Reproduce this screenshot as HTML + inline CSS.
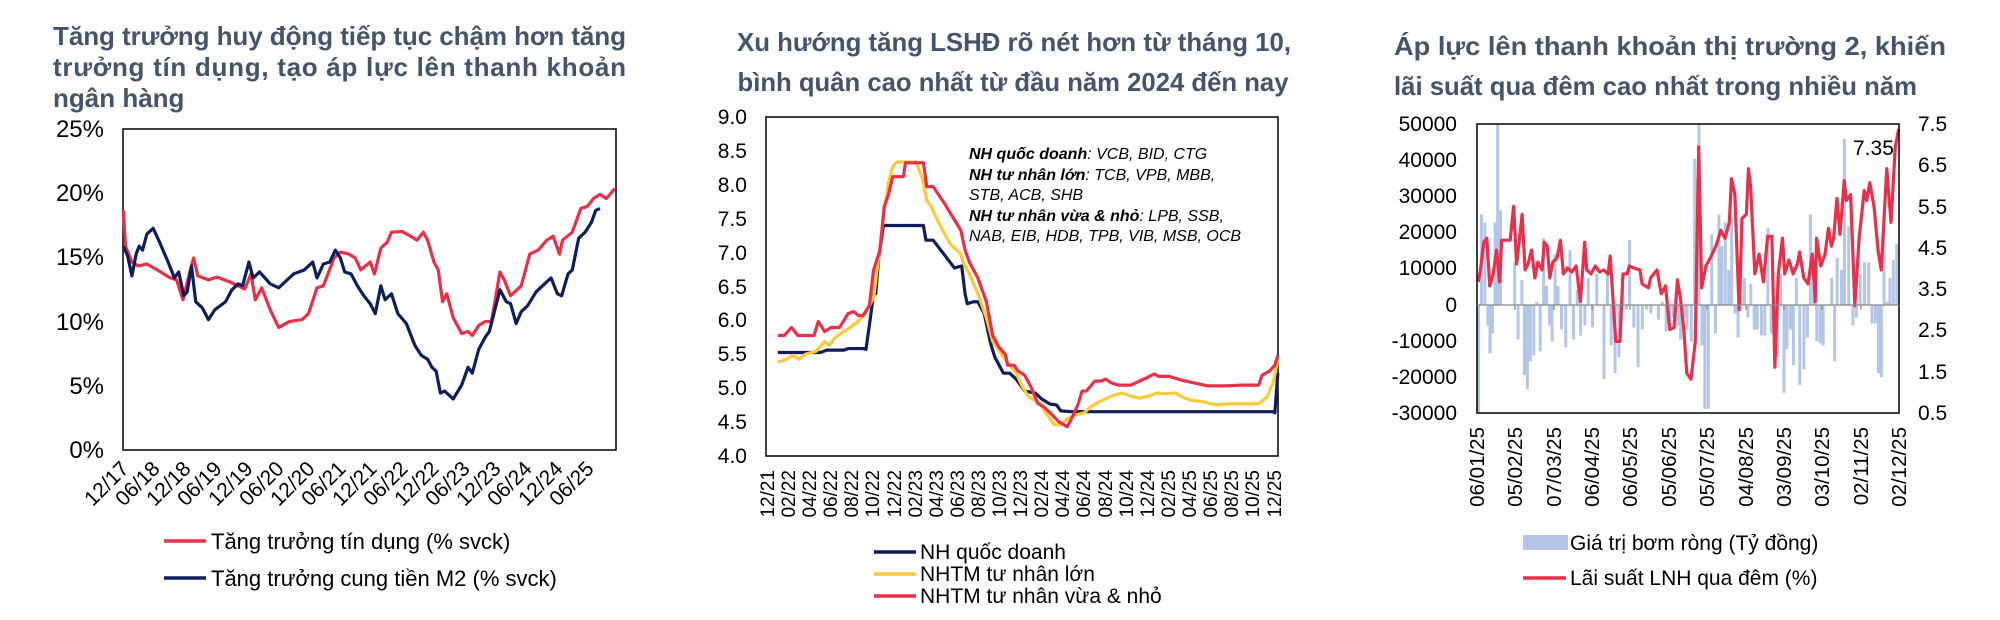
<!DOCTYPE html>
<html><head><meta charset="utf-8"><style>
html,body{margin:0;padding:0;background:#fff}
svg{display:block;font-family:"Liberation Sans",Arial,sans-serif}
.t{font-weight:bold;fill:#44546a;font-size:26px}
.ax{font-size:21px;fill:#000}
.ax1{font-size:24px;fill:#000}
.xl{font-size:19px;fill:#000}
.xl1{font-size:21px;fill:#000}
.xl3{font-size:20.5px;fill:#000}
.ln{fill:none;stroke-width:3.2;stroke-linejoin:round;vector-effect:non-scaling-stroke}
</style></head><body>
<svg width="2000" height="620" viewBox="0 0 2000 620">
<!-- ===== Chart 1 ===== -->
<text class="t" x="53" y="45" textLength="573" lengthAdjust="spacing">Tăng trưởng huy động tiếp tục chậm hơn tăng</text>
<text class="t" x="53" y="76" textLength="573" lengthAdjust="spacing">trưởng tín dụng, tạo áp lực lên thanh khoản</text>
<text class="t" x="53" y="107">ngân hàng</text>
<rect x="123" y="129" width="493" height="321" fill="none" stroke="#000" stroke-width="1.5"/>
<g class="ax1" text-anchor="end">
<text x="104" y="137">25%</text><text x="104" y="201">20%</text><text x="104" y="265">15%</text>
<text x="104" y="330">10%</text><text x="104" y="394">5%</text><text x="104" y="458">0%</text>
</g>
<g class="xl1" text-anchor="end">
<text transform="translate(130,470) rotate(-45)">12/17</text>
<text transform="translate(161,470) rotate(-45)">06/18</text>
<text transform="translate(192,470) rotate(-45)">12/18</text>
<text transform="translate(223,470) rotate(-45)">06/19</text>
<text transform="translate(254,470) rotate(-45)">12/19</text>
<text transform="translate(285,470) rotate(-45)">06/20</text>
<text transform="translate(316,470) rotate(-45)">12/20</text>
<text transform="translate(347,470) rotate(-45)">06/21</text>
<text transform="translate(378,470) rotate(-45)">12/21</text>
<text transform="translate(409,470) rotate(-45)">06/22</text>
<text transform="translate(440,470) rotate(-45)">12/22</text>
<text transform="translate(471,470) rotate(-45)">06/23</text>
<text transform="translate(502,470) rotate(-45)">12/23</text>
<text transform="translate(533,470) rotate(-45)">06/24</text>
<text transform="translate(564,470) rotate(-45)">12/24</text>
<text transform="translate(595,470) rotate(-45)">06/25</text>
</g>
<g transform="scale(0.4255,0.397)">
<polyline class="ln" stroke="#e8304a" points="290,530 295,620 310,660 325,670 345,665 370,680 400,700 415,705 430,755 445,690 455,650 465,695 490,705 510,698 540,710 575,728 590,690 600,755 615,725 635,780 655,825 680,810 710,805 725,790 745,725 760,720 785,650 800,635 820,640 835,650 848,680 870,660 880,690 895,625 910,610 920,585 945,583 965,595 980,605 995,585 1005,605 1020,660 1030,680 1040,760 1050,740 1065,800 1085,840 1100,835 1110,845 1125,820 1140,810 1155,810 1175,685 1185,705 1200,745 1215,730 1225,720 1245,640 1265,630 1285,605 1300,595 1315,640 1322,605 1345,585 1365,525 1380,520 1395,500 1410,490 1425,500 1445,475"/>
<polyline class="ln" stroke="#0f1e5a" points="290,620 300,645 310,695 320,640 327,620 335,630 345,590 360,575 375,610 395,660 410,700 420,685 432,745 440,735 450,670 460,760 475,775 490,805 505,780 530,760 545,730 560,715 570,720 585,660 595,700 610,685 635,715 655,725 670,710 690,690 715,680 735,660 745,700 760,665 775,660 788,630 800,650 810,685 825,690 840,720 855,745 870,765 882,790 895,720 905,755 920,740 935,790 955,815 975,870 990,895 1005,905 1015,925 1025,935 1035,990 1045,985 1055,995 1065,1005 1085,970 1100,925 1110,940 1125,880 1140,850 1150,835 1175,730 1190,760 1200,765 1213,815 1225,785 1240,770 1260,735 1280,715 1295,700 1310,740 1320,745 1335,690 1345,680 1360,600 1375,585 1390,560 1400,530 1410,525"/>
</g>
<line x1="164" y1="541" x2="206" y2="541" stroke="#e8304a" stroke-width="3.5"/>
<text x="211" y="549" font-size="22">Tăng trưởng tín dụng (% svck)</text>
<line x1="164" y1="578" x2="206" y2="578" stroke="#0f1e5a" stroke-width="3.5"/>
<text x="211" y="586" font-size="22">Tăng trưởng cung tiền M2 (% svck)</text>

<!-- ===== Chart 2 ===== -->
<text class="t" x="1014" y="51" text-anchor="middle" textLength="554" lengthAdjust="spacingAndGlyphs">Xu hướng tăng LSHĐ rõ nét hơn từ tháng 10,</text>
<text class="t" x="1013" y="91" text-anchor="middle" textLength="551" lengthAdjust="spacingAndGlyphs">bình quân cao nhất từ đầu năm 2024 đến nay</text>
<rect x="766" y="117" width="512" height="339" fill="none" stroke="#000" stroke-width="1.5"/>
<g class="ax" text-anchor="end">
<text x="747" y="124">9.0</text><text x="747" y="158">8.5</text><text x="747" y="192">8.0</text>
<text x="747" y="226">7.5</text><text x="747" y="260">7.0</text><text x="747" y="294">6.5</text>
<text x="747" y="327">6.0</text><text x="747" y="361">5.5</text><text x="747" y="395">5.0</text>
<text x="747" y="429">4.5</text><text x="747" y="463">4.0</text>
</g>
<g class="xl" text-anchor="end">
<text transform="translate(774,470) rotate(-90)">12/21</text>
<text transform="translate(795,470) rotate(-90)">02/22</text>
<text transform="translate(816,470) rotate(-90)">04/22</text>
<text transform="translate(837,470) rotate(-90)">06/22</text>
<text transform="translate(858,470) rotate(-90)">08/22</text>
<text transform="translate(879,470) rotate(-90)">10/22</text>
<text transform="translate(901,470) rotate(-90)">12/22</text>
<text transform="translate(922,470) rotate(-90)">02/23</text>
<text transform="translate(943,470) rotate(-90)">04/23</text>
<text transform="translate(964,470) rotate(-90)">06/23</text>
<text transform="translate(985,470) rotate(-90)">08/23</text>
<text transform="translate(1006,470) rotate(-90)">10/23</text>
<text transform="translate(1027,470) rotate(-90)">12/23</text>
<text transform="translate(1048,470) rotate(-90)">02/24</text>
<text transform="translate(1069,470) rotate(-90)">04/24</text>
<text transform="translate(1090,470) rotate(-90)">06/24</text>
<text transform="translate(1112,470) rotate(-90)">08/24</text>
<text transform="translate(1133,470) rotate(-90)">10/24</text>
<text transform="translate(1154,470) rotate(-90)">12/24</text>
<text transform="translate(1175,470) rotate(-90)">02/25</text>
<text transform="translate(1196,470) rotate(-90)">04/25</text>
<text transform="translate(1217,470) rotate(-90)">06/25</text>
<text transform="translate(1238,470) rotate(-90)">08/25</text>
<text transform="translate(1259,470) rotate(-90)">10/25</text>
<text transform="translate(1281,470) rotate(-90)">12/25</text>
</g>
<g font-size="16" font-style="italic" fill="#000">
<text x="969" y="159"><tspan font-weight="bold">NH quốc doanh</tspan>: VCB, BID, CTG</text>
<text x="969" y="180"><tspan font-weight="bold">NH tư nhân lớn</tspan>: TCB, VPB, MBB,</text>
<text x="969" y="200">STB, ACB, SHB</text>
<text x="969" y="221"><tspan font-weight="bold">NH tư nhân vừa &amp; nhỏ</tspan>: LPB, SSB,</text>
<text x="969" y="241">NAB, EIB, HDB, TPB, VIB, MSB, OCB</text>
</g>
<g transform="translate(680,0) scale(0.4255,0.397)">
<polyline class="ln" stroke="#0f1e5a" points="230,888 330,888 345,882 385,882 395,878 430,878 437,880 445,820 455,740 460,740 467,650 478,568 572,568 578,605 595,605 620,640 645,675 662,670 670,740 675,765 690,760 700,760 715,790 730,865 740,900 760,940 775,940 790,955 810,985 835,990 850,1005 870,1018 885,1020 895,1035 920,1037 1395,1037 1398,1040 1405,940"/>
<polyline class="ln" stroke="#ffc93c" points="230,912 250,905 265,895 280,905 295,892 320,885 340,860 350,870 365,850 385,835 400,825 420,808 435,790 445,770 455,750 470,620 480,530 490,460 500,420 510,408 555,408 570,450 580,505 590,520 610,565 635,615 660,640 665,660 680,690 700,740 720,800 735,860 760,900 775,920 790,940 805,975 820,1000 845,1015 860,1040 880,1070 895,1070 910,1055 930,1045 950,1040 965,1025 980,1015 1000,1005 1020,995 1040,990 1060,998 1080,1003 1100,998 1120,990 1140,992 1165,990 1180,1000 1200,1008 1230,1012 1260,1020 1290,1017 1360,1017 1380,1000 1395,960 1405,905"/>
<polyline class="ln" stroke="#e8304a" points="230,845 245,845 262,825 277,845 315,845 325,810 340,835 355,825 375,825 395,790 408,785 420,795 430,795 445,770 455,680 470,630 480,520 490,490 500,445 525,445 530,410 572,410 580,470 595,470 620,510 640,545 660,580 670,630 680,660 700,700 720,760 735,845 750,875 765,893 770,920 785,920 795,935 810,945 825,975 840,1015 855,1025 870,1040 890,1062 910,1075 920,1055 935,1020 945,985 955,985 975,960 990,960 1000,955 1015,965 1030,970 1060,970 1080,960 1100,950 1115,942 1125,948 1150,948 1180,958 1210,965 1240,972 1280,972 1320,970 1360,970 1368,945 1385,935 1398,920 1405,895"/>
</g>
<line x1="874" y1="552" x2="916" y2="552" stroke="#0f1e5a" stroke-width="3.5"/>
<text x="920" y="559" font-size="21">NH quốc doanh</text>
<line x1="874" y1="574" x2="916" y2="574" stroke="#ffc93c" stroke-width="3.5"/>
<text x="920" y="581" font-size="21">NHTM tư nhân lớn</text>
<line x1="874" y1="596" x2="916" y2="596" stroke="#e8304a" stroke-width="3.5"/>
<text x="920" y="603" font-size="21">NHTM tư nhân vừa &amp; nhỏ</text>

<!-- ===== Chart 3 ===== -->
<text class="t" x="1394" y="55" textLength="552" lengthAdjust="spacingAndGlyphs">Áp lực lên thanh khoản thị trường 2, khiến</text>
<text class="t" x="1394" y="95" textLength="523" lengthAdjust="spacingAndGlyphs">lãi suất qua đêm cao nhất trong nhiều năm</text>
<g transform="translate(1340,0) scale(0.4255,0.397)" fill="#b4c6e7">
<path d="M322,768V1040h7V768zM329,768V540h7V768zM337,768V560h7V768zM344,768V820h7V768zM349,768V890h7V768zM355,768V840h7V768zM361,768V560h7V768zM367,768V313h7V768zM374,768V530h7V768zM407,768V660h7V768zM415,768V855h7V768zM424,768V705h7V768zM430,768V945h7V768zM437,768V980h7V768zM444,768V910h7V768zM452,768V895h7V768zM459,768V760h7V768zM467,768V885h7V768zM475,768V600h7V768zM482,768V720h7V768zM489,768V820h7V768zM495,768V860h7V768zM502,768V640h7V768zM509,768V720h7V768zM517,768V830h7V768zM527,768V875h7V768zM537,768V630h7V768zM545,768V855h7V768zM554,768V730h7V768zM562,768V845h7V768zM572,768V820h7V768zM580,768V700h7V768zM590,768V825h7V768zM600,768V690h7V768zM609,768V770h7V768zM617,768V955h7V768zM625,768V690h7V768zM634,768V870h7V768zM643,768V940h7V768zM652,768V900h7V768zM660,768V700h7V768zM670,768V780h7V768zM677,768V605h7V768zM687,768V825h7V768zM697,768V925h7V768zM707,768V830h7V768zM717,768V780h7V768zM727,768V790h7V768zM745,768V805h7V768zM754,768V760h7V768zM763,768V835h7V768zM772,768V830h7V768zM780,768V800h7V768zM790,768V820h7V768zM797,768V855h7V768zM805,768V800h7V768zM812,768V830h7V768zM822,768V860h7V768zM830,768V400h7V768zM835,768V450h7V768zM840,768V313h7V768zM847,768V870h7V768zM854,768V1030h7V768zM862,768V1030h7V768zM870,768V590h7V768zM879,768V840h7V768zM887,768V540h7V768zM894,768V620h7V768zM902,768V560h7V768zM910,768V680h7V768zM917,768V550h7V768zM925,768V790h7V768zM932,768V850h7V768zM939,768V550h7V768zM947,768V700h7V768zM955,768V800h7V768zM962,768V715h7V768zM970,768V830h7V768zM977,768V830h7V768zM987,768V845h7V768zM995,768V845h7V768zM1002,768V575h7V768zM1010,768V840h7V768zM1017,768V870h7V768zM1025,768V900h7V768zM1032,768V690h7V768zM1040,768V990h7V768zM1047,768V880h7V768zM1055,768V830h7V768zM1062,768V920h7V768zM1069,768V700h7V768zM1077,768V970h7V768zM1087,768V930h7V768zM1095,768V850h7V768zM1102,768V540h7V768zM1110,768V650h7V768zM1117,768V860h7V768zM1125,768V865h7V768zM1132,768V870h7V768zM1142,768V770h7V768zM1152,768V700h7V768zM1159,768V910h7V768zM1165,768V650h7V768zM1175,768V680h7V768zM1182,768V350h7V768zM1192,768V570h7V768zM1202,768V820h7V768zM1210,768V800h7V768zM1219,768V690h7V768zM1229,768V660h7V768zM1239,768V660h7V768zM1247,768V815h7V768zM1255,768V815h7V768zM1262,768V940h7V768zM1269,768V950h7V768zM1275,768V580h7V768zM1282,768V760h7V768zM1289,768V700h7V768zM1297,768V655h7V768zM1305,768V615h7V768z"/>
<polyline class="ln" stroke="#e8304a" points="325,710 330,680 338,610 345,600 352,720 360,690 368,630 375,710 380,605 400,605 408,520 415,665 420,620 428,540 435,680 442,665 450,630 458,700 465,660 475,680 480,610 487,620 493,700 500,660 510,650 518,605 525,690 535,675 545,685 555,670 565,760 575,610 580,680 590,690 600,670 610,685 620,680 630,690 635,645 648,860 658,860 665,690 675,690 680,670 690,675 705,680 710,715 725,725 730,700 745,680 755,740 765,720 775,830 785,825 793,705 800,750 808,830 815,940 825,955 835,860 843,370 850,725 860,670 875,640 885,615 895,580 905,600 915,560 920,450 928,490 938,780 945,550 955,540 960,425 965,470 975,690 985,640 995,710 1005,595 1015,595 1022,925 1030,690 1040,600 1045,690 1055,655 1065,690 1075,665 1080,635 1090,700 1100,715 1110,640 1117,760 1120,600 1130,670 1140,640 1148,575 1155,620 1160,600 1168,500 1175,590 1185,455 1190,505 1200,490 1210,770 1220,600 1232,480 1238,505 1245,460 1255,520 1265,635 1272,680 1285,425 1295,560 1305,370 1313,325"/>
</g>
<rect x="1477" y="124" width="422" height="289" fill="none" stroke="#000" stroke-width="1.5"/>
<line x1="1477" y1="305" x2="1899" y2="305" stroke="#888" stroke-width="1.2"/>
<g stroke="#888" stroke-width="1.2">
<line x1="1515" y1="305" x2="1515" y2="310"/><line x1="1554" y1="305" x2="1554" y2="310"/><line x1="1592" y1="305" x2="1592" y2="310"/>
<line x1="1630" y1="305" x2="1630" y2="310"/><line x1="1669" y1="305" x2="1669" y2="310"/><line x1="1707" y1="305" x2="1707" y2="310"/>
<line x1="1746" y1="305" x2="1746" y2="310"/><line x1="1784" y1="305" x2="1784" y2="310"/><line x1="1822" y1="305" x2="1822" y2="310"/>
<line x1="1861" y1="305" x2="1861" y2="310"/>
</g>
<g class="ax" text-anchor="end">
<text x="1457" y="131">50000</text><text x="1457" y="167">40000</text><text x="1457" y="203">30000</text>
<text x="1457" y="239">20000</text><text x="1457" y="275">10000</text><text x="1457" y="312">0</text>
<text x="1457" y="348">-10000</text><text x="1457" y="384">-20000</text><text x="1457" y="420">-30000</text>
</g>
<g class="ax">
<text x="1918" y="131">7.5</text><text x="1918" y="172">6.5</text><text x="1918" y="214">5.5</text>
<text x="1918" y="255">4.5</text><text x="1918" y="296">3.5</text><text x="1918" y="337">2.5</text>
<text x="1918" y="379">1.5</text><text x="1918" y="420">0.5</text>
</g>
<text x="1853" y="155" font-size="21">7.35</text>
<g class="xl3" text-anchor="end">
<text transform="translate(1484,427) rotate(-90)">06/01/25</text>
<text transform="translate(1522,427) rotate(-90)">05/02/25</text>
<text transform="translate(1561,427) rotate(-90)">07/03/25</text>
<text transform="translate(1599,427) rotate(-90)">06/04/25</text>
<text transform="translate(1637,427) rotate(-90)">06/05/25</text>
<text transform="translate(1676,427) rotate(-90)">05/06/25</text>
<text transform="translate(1714,427) rotate(-90)">05/07/25</text>
<text transform="translate(1753,427) rotate(-90)">04/08/25</text>
<text transform="translate(1791,427) rotate(-90)">03/09/25</text>
<text transform="translate(1829,427) rotate(-90)">03/10/25</text>
<text transform="translate(1868,427) rotate(-90)">02/11/25</text>
<text transform="translate(1906,427) rotate(-90)">02/12/25</text>
</g>
<rect x="1523" y="535" width="45" height="15" fill="#b4c6e7"/>
<text x="1570" y="550" font-size="21">Giá trị bơm ròng (Tỷ đồng)</text>
<line x1="1523" y1="578" x2="1566" y2="578" stroke="#e8304a" stroke-width="3.5"/>
<text x="1570" y="585" font-size="21">Lãi suất LNH qua đêm (%)</text>
</svg>
</body></html>
